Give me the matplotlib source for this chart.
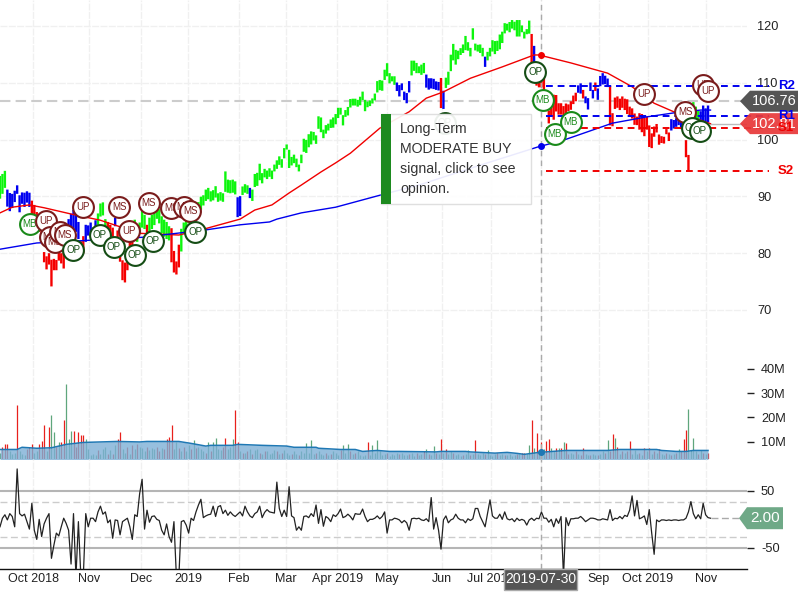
import matplotlib
matplotlib.use('Agg')
import matplotlib.pyplot as plt
import numpy as np
from matplotlib.patches import Polygon, Rectangle
from matplotlib.transforms import IdentityTransform

plt.rcParams['font.family'] = ['Liberation Sans', 'DejaVu Sans']

# daily bars, one value per session
bar_mid = [
    91.6, 92.2, 93.0, 89.7, 89.0, 89.2, 90.0, 91.2, 88.7, 89.7,
    89.4, 89.9, 89.4, 88.0, 87.0, 86.0, 85.0, 84.0, 79.3, 78.3,
    79.0, 76.5, 78.0, 77.9, 79.7, 79.1, 79.0, 82.0, 85.0, 85.2,
    85.3, 85.5, 84.0, 80.6, 81.5, 83.5, 84.0, 84.4, 83.5, 84.8,
    86.0, 87.6, 87.8, 85.0, 84.5, 84.0, 83.5, 85.5, 83.0, 80.0,
    77.0, 76.6, 78.5, 80.5, 81.0, 84.4, 83.0, 84.4, 86.0, 85.5,
    84.0, 85.0, 85.5, 86.7, 87.8, 86.5, 85.0, 84.4, 84.0, 83.5,
    81.4, 78.5, 77.4, 79.5, 82.3, 84.4, 85.5, 86.2, 86.5, 86.0,
    87.0, 88.0, 88.8, 89.3, 90.2, 90.5, 90.0, 90.2, 90.8, 89.8,
    90.0, 89.8, 92.6, 91.8, 91.7, 91.8, 91.5, 88.1, 88.3, 91.0,
    91.4, 91.2, 90.6, 90.2, 92.8, 93.0, 94.3, 93.2, 94.1, 93.8,
    94.2, 93.8, 95.0, 95.6, 96.3, 95.8, 97.6, 98.7, 96.6, 96.2,
    96.6, 95.9, 95.0, 96.6, 99.0, 98.8, 99.8, 100.3, 100.6, 100.0,
    103.0, 102.6, 101.0, 101.8, 102.2, 102.8, 103.0, 103.6, 104.7, 105.0,
    103.4, 104.6, 105.0, 106.4, 106.6, 106.6, 106.4, 106.8, 107.7, 106.0,
    106.2, 106.4, 106.8, 107.5, 109.3, 109.6, 109.5, 111.4, 112.3, 110.8,
    110.7, 110.4, 109.3, 108.6, 109.3, 107.7, 107.3, 109.3, 112.6, 113.0,
    112.6, 112.3, 112.3, 112.6, 110.3, 109.8, 109.9, 109.8, 109.5, 109.4,
    108.2, 107.0, 110.0, 110.8, 113.5, 115.4, 114.5, 114.9, 115.5, 116.0,
    117.0, 116.4, 115.4, 118.6, 116.3, 116.1, 116.0, 115.4, 113.7, 114.7,
    115.4, 116.5, 116.2, 116.5, 117.2, 118.0, 119.6, 119.8, 119.8, 120.3,
    120.0, 119.6, 119.6, 119.5, 118.4, 119.0, 119.8, 115.6, 115.0, 111.0,
    110.5, 110.5, 110.0, 106.5, 104.0, 105.2, 105.7, 106.4, 105.4, 105.4,
    105.0, 105.2, 105.6, 106.0, 107.0, 107.5, 108.9, 109.0, 108.0, 107.0,
    106.3, 109.3, 108.0, 109.3, 108.0, 110.3, 110.7, 110.5, 110.0, 106.0,
    103.5, 106.4, 106.6, 106.2, 106.6, 106.2, 105.8, 104.9, 104.6, 103.6,
    103.3, 103.2, 102.9, 102.2, 102.9, 100.6, 99.8, 101.4, 102.0, 100.0,
    100.0, 99.9, 101.4, 100.5, 102.6, 102.7, 103.0, 103.3, 102.6, 102.0,
    98.4, 95.9, 102.0, 105.6, 104.8, 104.0, 103.5, 104.5, 104.0, 104.5,
]
bar_range = [
    4.0, 3.5, 3.0, 3.0, 3.2, 2.5, 2.0, 1.5, 3.0, 2.0,
    2.5, 2.0, 2.5, 2.5, 3.0, 2.5, 2.5, 2.5, 1.8, 2.3,
    2.0, 4.7, 2.0, 1.8, 2.0, 1.8, 3.4, 2.0, 2.0, 3.5,
    4.7, 3.5, 3.0, 3.0, 3.0, 3.0, 1.8, 2.0, 2.0, 2.0,
    2.0, 2.3, 2.3, 2.0, 2.0, 2.0, 2.0, 1.5, 2.0, 3.0,
    3.5, 3.5, 3.0, 3.0, 2.0, 3.0, 2.0, 2.0, 3.0, 2.5,
    2.0, 2.5, 2.5, 3.5, 3.5, 2.5, 3.0, 3.0, 3.0, 2.5,
    6.0, 3.8, 2.3, 4.0, 4.0, 2.0, 2.0, 1.8, 1.5, 1.8,
    2.0, 2.0, 2.3, 1.8, 2.0, 2.0, 1.8, 1.8, 2.0, 1.5,
    1.5, 1.5, 3.6, 2.3, 2.3, 2.3, 2.3, 3.5, 3.5, 1.5,
    1.5, 1.5, 1.8, 2.0, 2.3, 2.3, 2.9, 1.8, 1.5, 1.5,
    1.5, 1.5, 1.2, 1.5, 1.5, 1.5, 1.8, 0.9, 3.2, 1.5,
    1.5, 1.5, 1.2, 1.5, 2.3, 2.3, 2.3, 2.3, 1.5, 1.5,
    2.2, 2.6, 1.5, 1.5, 1.2, 1.5, 1.8, 1.8, 1.8, 1.2,
    1.8, 1.2, 1.5, 1.5, 1.2, 1.2, 1.2, 1.5, 1.5, 2.0,
    1.0, 1.0, 0.9, 1.2, 2.0, 1.8, 1.8, 1.8, 2.3, 1.8,
    0.9, 1.5, 1.5, 2.0, 1.2, 1.5, 1.8, 2.0, 2.6, 1.8,
    1.8, 1.2, 1.8, 1.8, 2.3, 2.0, 1.8, 1.8, 1.5, 1.5,
    5.3, 3.2, 1.8, 2.3, 2.9, 2.9, 2.6, 1.5, 1.2, 1.5,
    2.5, 1.5, 1.5, 2.0, 1.2, 1.2, 1.5, 1.5, 1.8, 1.5,
    1.5, 2.0, 2.3, 1.8, 2.6, 2.0, 1.8, 1.2, 1.8, 1.5,
    1.5, 2.9, 2.9, 1.2, 1.2, 0.9, 2.3, 6.0, 3.0, 3.0,
    2.6, 2.6, 3.0, 3.0, 2.3, 2.3, 4.4, 2.9, 2.0, 2.0,
    1.8, 2.3, 1.2, 1.5, 1.5, 1.5, 1.3, 1.8, 1.5, 1.2,
    2.0, 1.5, 1.5, 1.5, 2.0, 1.8, 2.0, 1.5, 1.5, 7.0,
    2.3, 2.0, 2.0, 2.0, 2.0, 2.0, 2.6, 1.8, 1.8, 2.0,
    1.5, 2.9, 3.2, 3.2, 2.3, 3.8, 2.6, 1.8, 1.5, 1.8,
    1.2, 1.2, 0.9, 1.5, 2.0, 1.5, 1.5, 1.5, 1.5, 2.0,
    3.0, 2.8, 2.0, 2.0, 2.0, 2.3, 3.0, 3.0, 3.0, 3.0,
]
bar_state = ('gggbbbbbbb' 'bbbrrrrrrr' 'rrrrrrrrbb' 'bbbrrbbbbb' 'ggggrrrbrr'
             'rrrrrggggg' 'rggggggggg' 'rrrrgggggg' 'gggggggggg' 'gggggggbbg'
             'ggbggggggg' 'gggggggggg' 'gggggggggg' 'gggggggggg' 'gggggggggg'
             'gggggggggg' 'ggbbbbbbgg' 'ggggbbbbbb' 'rbgggggggg' 'ggggggggbg'
             'gggggggggg' 'gggggggrbr' 'rrrrrrrrrr' 'rrrrrrbbrb' 'bbbrbbbbbr'
             'rrrrrrrrrr' 'rrrrrrrrrr' 'rrrrbbbbbr' 'rrggggbbbb')

# moving averages read at a few sessions
ma_red_idx = [0, 5, 12, 18, 29, 41, 57, 73, 82, 98, 104, 111, 118, 123, 131, 137, 143, 155,
              167, 174, 181, 192, 205, 218, 220, 233, 248, 258, 267, 275, 286, 290]
ma_red_val = [87.1, 88.1, 88.5, 88.0, 86.9, 85.8, 83.5, 83.2, 84.1, 86.0, 87.6, 88.5, 90.6, 92.0,
              94.3, 95.9, 97.6, 102.0, 104.9, 107.3, 108.4, 110.8, 112.8, 114.9, 114.9, 113.5,
              111.7, 109.3, 106.4, 104.9, 103.4, 102.8]
ma_blue_idx = [0, 15, 29, 58, 84, 98, 110, 113, 123, 137, 155, 171, 196, 219.5, 230, 250, 264,
               275, 286, 290]
ma_blue_val = [80.7, 81.8, 82.1, 82.8, 84.1, 85.0, 85.5, 86.0, 87.1, 88.1, 90.2, 92.0, 95.5, 98.7,
               99.9, 102.9, 104.0, 104.7, 105.2, 105.2]

# signal bubbles
sig_idx = [12.2, 221.6, 226.5, 233, 18.8, 33.9, 52.7, 262.9, 286.9, 289, 20.4, 22.4, 24.5, 26.5,
           48.6, 60.8, 69.8, 75.1, 77.6, 279.6, 29.8, 40.8, 46.5, 55.1, 62.4, 79.6, 181.6, 218.4,
           282.4, 285.7]
sig_price = [85.1, 107.0, 101.0, 103.1, 85.7, 88.1, 83.9, 108.0, 109.6, 108.6, 82.8, 82.0, 83.7,
             83.2, 88.1, 88.8, 87.9, 88.1, 87.4, 104.9, 80.6, 83.2, 81.1, 79.7, 82.1, 83.7, 102.9,
             111.9, 102.0, 101.5]
sig_name = ['MB'] * 4 + ['UP'] * 6 + ['MS'] * 10 + ['OP'] * 10

pivot_names = ['R2', 'R1', 'S1', 'S2']
pivot_vals = [109.4, 104.1, 102.1, 94.5]

volume = [
    5.5, 7.7, 9.0, 9.0, 6.0, 5.0, 5.5, 25.0, 6.0, 5.0,
    4.5, 7.0, 8.0, 9.0, 5.5, 6.0, 9.0, 10.3, 17.0, 6.0,
    16.2, 21.0, 14.0, 8.0, 10.0, 10.0, 19.0, 33.7, 11.0, 14.4,
    14.5, 8.0, 14.0, 12.7, 12.7, 11.0, 7.0, 4.5, 5.0, 4.5,
    6.5, 5.0, 7.0, 8.0, 5.0, 6.5, 5.0, 8.5, 11.0, 14.0,
    7.0, 5.5, 8.0, 5.0, 8.5, 7.0, 9.0, 8.0, 7.5, 6.0,
    8.0, 6.5, 7.5, 7.0, 8.0, 6.0, 7.5, 7.0, 11.0, 12.0,
    17.0, 7.0, 10.0, 7.5, 6.0, 8.0, 6.0, 8.5, 7.0, 10.7,
    7.5, 8.0, 7.0, 6.0, 5.5, 10.0, 6.0, 10.0, 11.7, 7.0,
    6.5, 8.0, 11.4, 7.0, 8.0, 11.0, 23.0, 10.0, 6.0, 5.5,
    5.5, 6.0, 7.0, 5.0, 6.5, 7.0, 5.5, 5.0, 6.0, 6.0,
    5.0, 5.5, 6.5, 6.0, 5.0, 5.5, 6.5, 5.5, 4.5, 5.0,
    6.0, 5.0, 4.5, 6.0, 5.5, 9.6, 5.5, 10.7, 5.0, 5.5,
    6.0, 5.0, 4.5, 5.5, 4.5, 5.0, 6.0, 5.5, 4.5, 6.5,
    8.6, 5.5, 9.0, 6.0, 5.0, 5.5, 6.0, 4.5, 4.0, 4.5,
    10.0, 4.5, 8.6, 5.5, 10.7, 6.0, 4.5, 5.0, 5.5, 4.0,
    5.0, 4.5, 5.5, 5.0, 5.5, 4.5, 4.5, 5.0, 5.5, 4.0,
    5.5, 4.5, 5.0, 6.0, 6.8, 5.0, 4.5, 8.2, 5.5, 5.0,
    11.0, 5.5, 7.0, 5.0, 6.0, 5.5, 4.5, 5.0, 4.0, 4.5,
    5.0, 6.6, 4.5, 5.0, 10.7, 5.0, 4.5, 5.5, 5.0, 6.6,
    4.5, 4.0, 5.0, 5.5, 4.5, 5.0, 4.5, 4.5, 5.0, 4.0,
    4.5, 5.0, 5.0, 5.5, 5.5, 5.0, 8.6, 19.0, 7.6, 13.7,
    6.0, 9.9, 7.0, 10.3, 11.0, 7.6, 6.0, 7.6, 7.6, 7.6,
    9.7, 9.3, 5.0, 5.5, 5.0, 6.0, 5.0, 4.5, 7.3, 5.0,
    4.5, 4.5, 5.0, 4.5, 4.5, 5.0, 6.0, 5.5, 10.7, 6.0,
    13.0, 11.4, 8.0, 5.0, 6.0, 5.5, 6.0, 10.3, 5.0, 6.5,
    5.0, 5.5, 4.5, 7.3, 6.0, 7.3, 5.0, 6.0, 5.5, 6.8,
    5.0, 4.5, 5.5, 5.0, 4.5, 5.0, 5.5, 6.8, 6.0, 11.0,
    15.0, 23.3, 6.5, 11.7, 6.0, 5.0, 6.5, 5.5, 5.0, 5.2,
]
volume_up = ('grrrgggrgg' 'grrrggrrrg' 'rggrgrrggg' 'rrrrrggggg' 'rgggrgrgrr'
             'ggrgrgrggg' 'rgggrrgrrr' 'rggrgrggrg' 'rgggrgrggg' 'grrgggrrgr'
             'grgrggrgrg' 'gggrgrgggr' 'ggrggggggr' 'gggrgrgggr' 'gggrgrgggg'
             'rgggggggrg' 'gggrgggrgg' 'rggrgrggrg' 'rgrggrgggr' 'ggrgrgggrg'
             'gggrggrggg' 'grgrrggrgr' 'grgrrggrgr' 'grrggrgrrg' 'grggrggrgr'
             'rgrgrgrrgg' 'grgrgrgrgr' 'ggrgrgrgrr' 'rggggrgrgr')
vol_ma_idx = [0, 7, 9, 15, 21, 27, 34, 48, 57, 60, 73, 78, 84, 86, 95, 97, 107, 117, 120, 129,
              130, 139, 145, 148, 154, 159, 163, 178, 180, 190, 192, 202, 207, 211, 214, 217,
              220, 231, 244, 248, 253, 268, 270, 276, 280, 283, 289]
vol_ma_val = [6.8, 6.8, 7.7, 7.3, 7.5, 8.9, 9.7, 10.1, 9.9, 10.1, 10.1, 9.3, 8.2, 8.5, 8.5, 8.9,
              8.5, 8.2, 7.7, 7.7, 7.3, 6.8, 6.8, 6.0, 6.4, 6.0, 6.0, 5.8, 6.0, 6.0, 5.8, 5.3,
              5.6, 5.2, 4.8, 5.2, 5.6, 6.4, 6.4, 6.4, 6.8, 6.8, 6.4, 6.0, 6.0, 6.4, 6.4]

osc = [
    -13, 2, 8, -1, 10, 5, -13, 88, 10, 6,
    9, -4, -17, 28, -19, -35, 0, -30, -8, 2,
    10, -68, -45, -24, -29, -13, 2, -7, -19, -78,
    10, -100, -4, -100, -100, 10, -13, 2, 2, -4,
    13, 23, 9, 13, -6, -1, -33, -1, -2, -27,
    -4, -1, 2, -13, -35, 8, 5, 45, 70, -17,
    16, -5, 5, 6, 0, -2, -19, -27, -8, -30,
    -40, -4, -100, -100, -4, -2, -10, -24, 2, -2,
    13, 25, 35, 3, 6, 8, 9, 23, 5, 22,
    24, 10, 16, 7, 13, 8, 5, 9, 13, 6,
    23, 13, 6, 3, 10, 13, 23, 3, 12, 17,
    13, 12, 11, 65, 19, 5, 16, 5, 57, 6,
    3, -19, -13, -19, 5, 6, 3, 10, 5, 25,
    -7, 17, -12, 5, 2, -4, 8, 5, 10, 18,
    3, 5, 9, 5, -1, 10, 9, 9, 18, 5,
    -4, 0, 0, 2, 6, 1, 5, 13, -24, -1,
    -1, 2, 1, -1, -6, -2, -6, -19, 1, 2,
    1, 2, -1, -2, 1, -4, 38, -17, 3, -19,
    -52, -1, 6, -6, -1, 1, 9, 2, -1, -1,
    -6, 1, -2, 1, 19, 19, 5, -4, -13, 10,
    34, 6, 2, 2, 9, 0, 13, 1, -1, 1,
    -4, 2, -2, 0, -2, -10, -1, 2, -2, 2,
    1, 13, 2, 2, -5, 0, -13, 1, -7, 5,
    -100, 3, -11, 1, 1, 2, 2, 5, 1, -4,
    -1, 2, 2, 1, -1, -1, 1, 0, -1, 17,
    -2, 2, 1, 5, 1, 7, 5, 16, 41, 6,
    33, 1, 3, 6, -9, 17, -24, -61, -1, -4,
    -1, -1, -2, -1, -2, -1, -1, -2, -1, -1,
    2, 13, 31, 10, 1, 8, 1, 28, 8, 3, 2,
]

tick_idx = [13.5, 36.3, 57.6, 76.7, 97.6, 116.7, 137.6, 158, 180.4, 200.4, 244.5, 264.5, 288]
tick_labels = ['Oct 2018', 'Nov', 'Dec', '2019', 'Feb', 'Mar', 'Apr 2019', 'May', 'Jun', 'Jul 2019',
               'Sep', 'Oct 2019', 'Nov']
grid_idx = tick_idx + [220.8]
price_ticks = [70, 80, 90, 100, 110, 120]
vol_ticks = [10, 20, 30, 40]
vol_tick_labels = ['10M', '20M', '30M', '40M']
osc_ticks = [-50, 50]
osc_tick_labels = ['-50', '50']

last_price = 106.76
ma_price = 102.81
osc_last = 2.00
cross_idx = 220.8
cross_date = '2019-07-30'

BAR_COLORS = {'g': '#0df50d', 'b': '#0000f0', 'r': '#f50000'}
VOL_COLORS = {'g': '#5fa67c', 'r': '#e8201c'}
RING = {'MB': '#1a8a1a', 'UP': '#7a1c1c', 'MS': '#7a1c1c', 'OP': '#154d15'}

W, H = 800.0, 600.0
XMAX = 747 / 2.45


def panel(top, bottom):
    return fig.add_axes([0, 1 - bottom / H, 747 / W, (bottom - top) / H])


fig = plt.figure(figsize=(8, 6), dpi=100)
ax_p = panel(0, 360)
ax_v = panel(360, 459)
ax_o = panel(459, 569.3)

for ax in (ax_p, ax_v, ax_o):
    ax.set_xlim(0, XMAX)
    ax.patch.set_alpha(0)
    for s in ax.spines.values():
        s.set_visible(False)
    ax.yaxis.tick_right()
    ax.set_xticks([])
    for g in grid_idx:
        ax.axvline(g, color='#f0f0f0', lw=1, dashes=(5, 1), zorder=0)
    ax.axvline(cross_idx, color='#aaaaaa', lw=1, dashes=(4, 3), zorder=8)

# price panel
ax_p.set_ylim(120 - 334 / 5.68, 120 + 26 / 5.68)
ax_p.set_yticks(price_ticks)
ax_p.tick_params(axis='y', length=0, pad=7.5, labelsize=9.2, labelcolor='#222222')
for p in price_ticks:
    ax_p.axhline(p, color='#f0f0f0', lw=1, dashes=(5, 1), zorder=0)
ax_p.axhline(last_price, color='#cccccc', lw=1.5, dashes=(5, 2.5), zorder=1)

x = np.arange(len(bar_mid))
mid = np.array(bar_mid)
rng = np.array(bar_range)
bars = ax_p.vlines(x, mid - rng / 2, mid + rng / 2, colors=[BAR_COLORS[c] for c in bar_state], lw=1.7, zorder=3)
bars.set_snap(False)

ax_p.plot(ma_red_idx, ma_red_val, color='#f00000', lw=1, zorder=4)
ax_p.plot(ma_blue_idx, ma_blue_val, color='#0000ee', lw=1, zorder=4)
ax_p.plot([cross_idx], [np.interp(cross_idx, ma_red_idx, ma_red_val)], 'o', color='#f00000', ms=4, zorder=9)
ax_p.plot([cross_idx], [np.interp(cross_idx, ma_blue_idx, ma_blue_val)], 'o', color='#0000ee', ms=4, zorder=9)

# grey leader to the moving average tag
ax_p.plot([290, XMAX], [ma_price, ma_price], color='#bbbbbb', lw=1, zorder=2)

for val, name in zip(pivot_vals, pivot_names):
    c = '#0000ee' if name[0] == 'R' else '#f00000'
    ax_p.plot([223, 314], [val, val], color=c, lw=1.4, dashes=(3.5, 2.5), clip_on=False, zorder=5)

# signal bubbles, left to right so later ones sit on top
order = np.argsort(sig_idx)
for n, k in enumerate(order):
    ring = RING[sig_name[k]]
    ax_p.scatter([sig_idx[k]], [sig_price[k]], s=225, facecolor='white', edgecolor=ring, lw=1.5,
                 zorder=10 + n)
    ax_p.text(sig_idx[k], sig_price[k], sig_name[k], color=ring, fontsize=7, ha='center', va='center',
              zorder=10 + n)

# volume panel
ax_v.set_ylim((466 - 459) / 2.43, (466 - 360) / 2.43)
ax_v.set_yticks(vol_ticks, vol_tick_labels)
ax_v.tick_params(axis='y', length=5, width=1, pad=5, labelsize=9.2, labelcolor='#222222', color='#222222')
xv = np.arange(len(volume))
ax_v.vlines(xv, 0, volume, colors=[VOL_COLORS[c] for c in volume_up], lw=0.9, zorder=2)
ax_v.fill_between(vol_ma_idx, 0, vol_ma_val, color='#7db0d6', alpha=0.8, lw=0, zorder=3)
ax_v.plot(vol_ma_idx, vol_ma_val, color='#1f78b4', lw=1.1, zorder=4)
ax_v.plot([cross_idx], [np.interp(cross_idx, vol_ma_idx, vol_ma_val)], 'o', color='#1f78b4', ms=4, zorder=9)

# oscillator panel
ax_o.set_ylim(-50 - 21.3 / 0.573, 50 + 31.7 / 0.573)
ax_o.set_yticks(osc_ticks, osc_tick_labels)
ax_o.tick_params(axis='y', length=5, width=1, pad=5, labelsize=9.2, labelcolor='#222222', color='#222222')
for v in osc_ticks:
    ax_o.axhline(v, color='#b5b5b5', lw=1.5, zorder=1)
for v in [-30, 30]:
    ax_o.axhline(v, color='#cccccc', lw=1, dashes=(5, 2.5), zorder=1)
ax_o.plot(np.arange(len(osc)), osc, color='#222222', lw=0.9, zorder=3)
ax_o.plot([len(osc) - 1, XMAX], [osc_last, osc_last], color='#aaaaaa', lw=1, dashes=(5, 2.5), zorder=2)

ax_o.spines['bottom'].set_visible(True)
ax_o.spines['bottom'].set_linewidth(1)
ax_o.spines['bottom'].set_color('#111111')
ax_o.set_xticks(tick_idx, tick_labels)
ax_o.tick_params(axis='x', length=0, pad=3, labelsize=9, labelcolor='#222222')

fig.canvas.draw()


def tag(ax, value, text, color, x0, x1, x2, half, fs, alpha=1.0):
    yp = ax.transData.transform((0, value))[1]
    fig.add_artist(Polygon([(x0, yp), (x1, yp + half), (x2, yp + half), (x2, yp - half), (x1, yp - half)],
                           closed=True, facecolor=color, edgecolor='none', alpha=alpha,
                           transform=IdentityTransform(), zorder=30))
    fig.text((x1 + x2) / 2 / W, yp / H, text, color='white', fontsize=fs, ha='center', va='center', zorder=31)


tag(ax_p, ma_price, f'{ma_price:.2f}', '#e8393a', 740, 750, 798, 10.5, 10.5, alpha=0.93)
tag(ax_p, last_price, f'{last_price:.2f}', '#555555', 740, 750, 798, 10.5, 10.5)
tag(ax_o, osc_last, f'{osc_last:.2f}', '#6fa987', 739, 747, 783, 11, 11)

# pivot names sit over the price tags
for val, name in zip(pivot_vals, pivot_names):
    c = '#0000ee' if name[0] == 'R' else '#f00000'
    yp = ax_p.transData.transform((0, val))[1]
    fig.text(778 / W, yp / H, name, color=c, fontsize=9.5, fontweight='bold', va='center', ha='left', zorder=32)

# date box at the crosshair
fig.add_artist(Rectangle((504 / W, 1 - 590 / H), 73 / W, 21 / H, transform=fig.transFigure,
                         facecolor='#555555', edgecolor='#aaaaaa', lw=1, zorder=30))
fig.text(540.5 / W, 1 - 579 / H, cross_date, color='white', fontsize=10, ha='center', va='center', zorder=31)

# opinion tooltip
fig.add_artist(Rectangle((381 / W, 1 - 204 / H), 150 / W, 90 / H, transform=fig.transFigure,
                         facecolor='white', edgecolor='#dddddd', lw=1, alpha=0.92, zorder=40))
fig.add_artist(Rectangle((381 / W, 1 - 204 / H), 10 / W, 90 / H, transform=fig.transFigure,
                         facecolor='#1d8a1f', edgecolor='none', zorder=41))
tip_lines = ['Long-Term', 'MODERATE BUY', 'signal, click to see', 'opinion.']
for n, line in enumerate(tip_lines):
    fig.text(400 / W, 1 - (129 + 20 * n) / H, line, color='#333333', fontsize=10.2, ha='left', va='center',
             zorder=42)

fig.savefig('out.png', dpi=100)
